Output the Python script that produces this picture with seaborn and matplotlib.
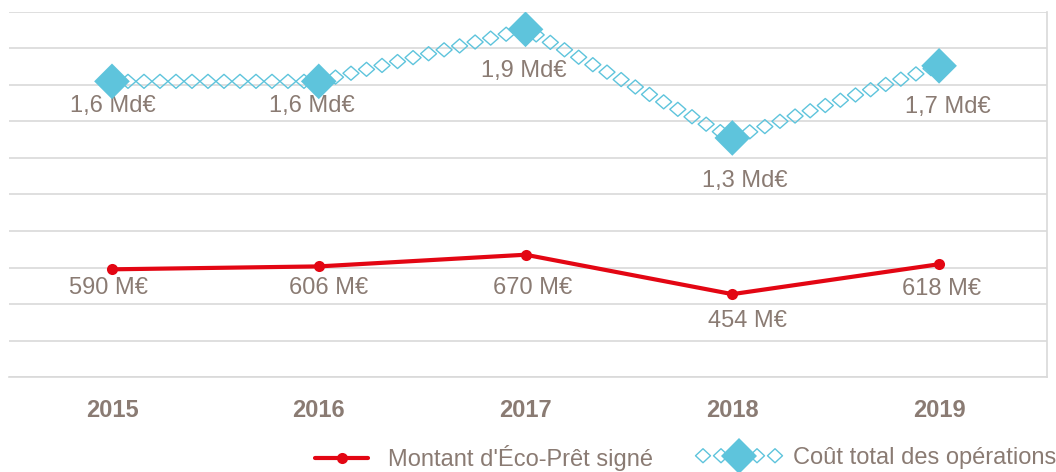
import numpy as np
import pandas as pd
import matplotlib
matplotlib.use('Agg')
import matplotlib.pyplot as plt
from matplotlib.path import Path
from matplotlib.transforms import Affine2D
from matplotlib.patheffects import AbstractPathEffect
from matplotlib.lines import Line2D
from matplotlib.legend_handler import HandlerTuple
import seaborn as sns

# data (M€)
years = ['2015', '2016', '2017', '2018', '2019']
pret_signe = [590, 606, 670, 454, 618]
pret_labels = ['590 M€', '606 M€', '670 M€', '454 M€', '618 M€']
cout_total = [1620, 1620, 1905, 1310, 1705]
cout_labels = ['1,6 Md€', '1,6 Md€', '1,9 Md€', '1,3 Md€', '1,7 Md€']

# label offsets in pixels (style only)
pret_offsets = [(-3, -19), (10, -22), (7, -33), (15, -27), (2, -25)]
cout_offsets = [(1, -25), (-7, -25), (-2, -42), (13, -43), (9, -41)]

red = '#e30613'
blue = '#5ec4dc'
txt = '#8a7b73'
grid = '#d9d9d9'
fs = 17

sns.set_style('white')
plt.rcParams['font.family'] = ['Liberation Sans', 'DejaVu Sans']


class DiamondTrail(AbstractPathEffect):
    """draw small hollow diamonds along the path instead of a line"""
    def __init__(self, spacing=16, hw=8.0, hh=7.0, lw=1.0):
        super().__init__()
        self.spacing = spacing
        self.hw = hw
        self.hh = hh
        self.lw = lw

    def draw_path(self, renderer, gc, tpath, affine, rgbFace=None):
        verts = affine.transform(tpath.vertices)
        gc0 = renderer.new_gc()
        gc0.copy_properties(gc)
        gc0.set_linewidth(self.lw)
        hw, hh = self.hw, self.hh
        carry = 0.0
        for (x0, y0), (x1, y1) in zip(verts[:-1], verts[1:]):
            seg = np.hypot(x1 - x0, y1 - y0)
            if seg == 0:
                continue
            d = carry
            while d <= seg + 0.5:
                t = min(d / seg, 1.0)
                cx, cy = x0 + t * (x1 - x0), y0 + t * (y1 - y0)
                dia = Path([(cx - hw, cy), (cx, cy + hh), (cx + hw, cy), (cx, cy - hh), (cx - hw, cy)],
                           [Path.MOVETO, Path.LINETO, Path.LINETO, Path.LINETO, Path.CLOSEPOLY])
                renderer.draw_path(gc0, dia, Affine2D(), None)
                d += self.spacing
            carry = max(d - seg, 0.0)
        gc0.restore()


df = pd.DataFrame({'annee': years, 'pret': pret_signe, 'cout': cout_total})

fig = plt.figure(figsize=(10.56, 4.72), dpi=100)
ax = fig.add_axes([8.6 / 1056, 95 / 472, 1038 / 1056, 365 / 472])

sns.lineplot(data=df, x='annee', y='cout', ax=ax, color=blue, linewidth=1.0,
             path_effects=[DiamondTrail()], zorder=3)
sns.scatterplot(data=df, x='annee', y='cout', ax=ax, color=blue, marker='D',
                s=330, edgecolor='none', zorder=4)
sns.lineplot(data=df, x='annee', y='pret', ax=ax, color=red, linewidth=3,
             marker='o', markersize=8, markeredgewidth=0, zorder=5)

for i in range(len(years)):
    ax.annotate(pret_labels[i], (i, pret_signe[i]), xytext=pret_offsets[i],
                textcoords='offset pixels', ha='center', va='center',
                color=txt, fontsize=fs)
    ax.annotate(cout_labels[i], (i, cout_total[i]), xytext=cout_offsets[i],
                textcoords='offset pixels', ha='center', va='center',
                color=txt, fontsize=fs)

ax.set_xlim(-0.5, 4.52)
ax.set_ylim(0, 2000)
ax.set_yticks(np.arange(0, 2001, 200))
ax.set_yticklabels([])
ax.tick_params(axis='y', length=0)
ax.yaxis.grid(True, color=grid, linewidth=1.2)
ax.set_axisbelow(True)
ax.set_xlabel('')
ax.set_ylabel('')

ax.set_xticks(range(len(years)))
ax.set_xticklabels(years, fontweight='bold', fontsize=fs, color=txt)
ax.set_xticks(np.arange(0.5, len(years) - 0.5, 1), minor=True)
ax.tick_params(axis='x', which='major', length=0, pad=16)
ax.tick_params(axis='x', which='minor', length=6, width=1.2, color=grid)

for s in ['top', 'left']:
    ax.spines[s].set_visible(False)
for s in ['right', 'bottom']:
    ax.spines[s].set_color(grid)
    ax.spines[s].set_linewidth(1.2)

# legends (two, so each key can have its own length)
em = fs * 100 / 72
h_red = Line2D([], [], color=red, linewidth=3, marker='o', markersize=8, markeredgewidth=0)
leg1 = fig.legend([h_red], ["Montant d'Éco-Prêt signé"], loc='center left',
                  bbox_to_anchor=(315 / 1056, 14 / 472), frameon=False, fontsize=fs,
                  borderpad=0, borderaxespad=0,
                  handlelength=53 / em, handletextpad=20 / em, labelcolor=txt)
h_trail = Line2D([], [], color=blue, linewidth=1.0, path_effects=[DiamondTrail(spacing=18, hw=7.5, hh=7)])
h_big = Line2D([], [], color=blue, linestyle='none', marker='D', markersize=18, markeredgewidth=0)
leg2 = fig.legend([(h_trail, h_big)], ['Coût total des opérations'], loc='center left',
                  bbox_to_anchor=(703 / 1056, 14 / 472), frameon=False, fontsize=fs,
                  borderpad=0, borderaxespad=0,
                  handlelength=72 / em, handletextpad=18 / em, labelcolor=txt,
                  handler_map={tuple: HandlerTuple(ndivide=1)})

fig.savefig('out.png', dpi=100)
